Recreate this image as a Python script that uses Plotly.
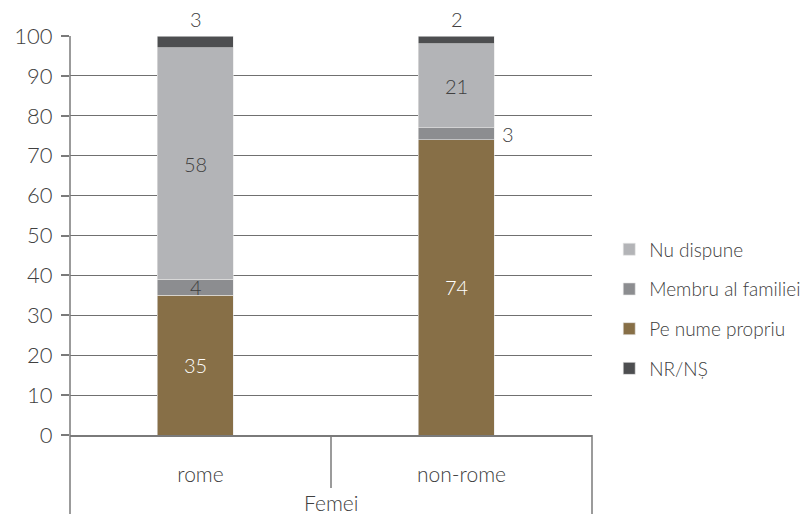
import plotly.graph_objects as go

categories = ["rome", "non-rome"]
group_label = "Femei"
series_names = ["Pe nume propriu", "Membru al familiei", "Nu dispune", "NR/NȘ"]
pe_nume_propriu = [35, 74]
membru_familiei = [4, 3]
nu_dispune = [58, 21]
nr_ns = [3, 2]
y_ticks = [0, 10, 20, 30, 40, 50, 60, 70, 80, 90, 100]

series_values = [pe_nume_propriu, membru_familiei, nu_dispune, nr_ns]
colors = ["#876F47", "#8C8D90", "#B3B4B7", "#4D4E50"]
legend_ranks = [3, 2, 1, 4]
label_colors = ["#FFFFFF", "#404040", "#404040", "#404040"]

FONT = "Lato"
TXT = "#404040"

fig = go.Figure()
for name, vals, col, rank in zip(series_names, series_values, colors, legend_ranks):
    fig.add_trace(go.Bar(
        x=categories, y=vals, name=name,
        marker=dict(color=col, line=dict(color="#E6E6E6", width=0.6)),
        width=0.29, offset=-0.165,
        legendrank=rank, legendgroup=name,
    ))

LBL = 20
annotations = []
base = [0] * len(categories)
for si, vals in enumerate(series_values):
    for ci, v in enumerate(vals):
        mid = base[ci] + v / 2
        if si == len(series_values) - 1:
            annotations.append(dict(x=categories[ci], y=base[ci] + v, text=str(v), showarrow=False,
                                    yanchor="bottom", xshift=-5, yshift=3,
                                    font=dict(family=FONT, size=LBL, color=TXT, weight=300)))
        elif si == 1 and ci == 1:
            annotations.append(dict(x=categories[ci], y=mid, text=str(v), showarrow=False,
                                    xanchor="left", xshift=38,
                                    font=dict(family=FONT, size=LBL, color=TXT, weight=300)))
        else:
            annotations.append(dict(x=categories[ci], y=mid, text=str(v), showarrow=False,
                                    xshift=-5,
                                    font=dict(family=FONT, size=LBL, color=label_colors[si], weight=300)))
        base[ci] += v

annotations.append(dict(x=0.5, y=-0.17, xref="paper", yref="paper", text=group_label, showarrow=False,
                        yanchor="middle", font=dict(family=FONT, size=21, color=TXT, weight=300)))

line_col = "#7A7A7A"
shapes = [
    dict(type="line", xref="paper", yref="paper", x0=0, x1=0, y0=1, y1=-0.2, line=dict(color=line_col, width=1.5)),
    dict(type="line", xref="paper", yref="paper", x0=0.5, x1=0.5, y0=0, y1=-0.133, line=dict(color=line_col, width=1.5)),
    dict(type="line", xref="paper", yref="paper", x0=1, x1=1, y0=0, y1=-0.2, line=dict(color=line_col, width=1.5)),
]

fig.update_layout(
    width=808, height=514,
    barmode="stack",
    paper_bgcolor="white", plot_bgcolor="white",
    margin=dict(l=70, r=216, t=36, b=79),
    font=dict(family=FONT, color=TXT, weight=300),
    showlegend=True,
    legend=dict(xref="container", yref="container", x=0.754, y=0.399, xanchor="left", yanchor="middle",
                font=dict(family=FONT, size=19, color=TXT, weight=300),
                tracegroupgap=12, itemwidth=30, traceorder="grouped"),
    annotations=annotations,
    shapes=shapes,
    xaxis=dict(range=[-0.5, 1.5], showgrid=False, showline=True, linecolor=line_col, linewidth=1.5,
               ticks="", tickfont=dict(family=FONT, size=21, color=TXT, weight=300),
               ticklabelstandoff=20, fixedrange=True),
    yaxis=dict(range=[0, 100], tickvals=y_ticks, showgrid=True, gridcolor="#707070", gridwidth=1,
               showline=False, ticks="outside", ticklen=8, tickcolor=line_col, tickwidth=1.5,
               tickfont=dict(family=FONT, size=22, color=TXT, weight=300), zeroline=False,
               ticklabelstandoff=4),
)

fig.write_html("out.html", config={"displayModeBar": False},
               post_script="document.body.style.margin='0';")
